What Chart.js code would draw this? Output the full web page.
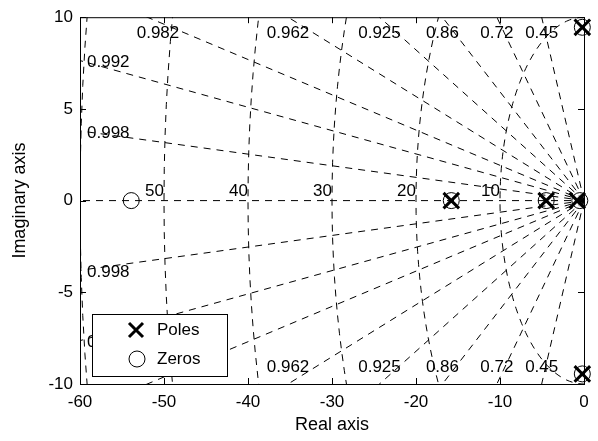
<!DOCTYPE html>
<html>
<head>
<meta charset="utf-8">
<script src="https://cdn.jsdelivr.net/npm/chart.js@4.4.0/dist/chart.umd.min.js"></script>
<style>
  html, body { margin: 0; padding: 0; background: #fff; }
</style>
</head>
<body>
<canvas id="pzmap" width="598" height="441"></canvas>
<script>
// pole / zero locations
const poleRe = [-15.8, -4.5, -0.8, -0.2, -0.2];
const poleIm = [0, 0, 0, 9.45, -9.45];
const zeroRe = [-53.9, -15.8, -4.5, -0.5, -0.2, -0.2];
const zeroIm = [0, 0, 0, 0, 9.45, -9.45];

// s-plane grid
const dampingValues = [0.45, 0.72, 0.86, 0.925, 0.962, 0.982, 0.992, 0.998];
const freqValues = [10, 20, 30, 40, 50, 60];

const xTickValues = [-60, -50, -40, -30, -20, -10, 0];
const yTickValues = [-10, -5, 0, 5, 10];

const FONT = "'Liberation Sans', Arial, Helvetica, sans-serif";

function gridLine(points) {
  return {
    type: "scatter",
    data: points,
    showLine: true,
    borderColor: "#000",
    borderWidth: 1,
    borderDash: [7, 6],
    pointRadius: 0,
    fill: false,
  };
}

const datasets = [];
// real axis, zeta = 1
datasets.push(gridLine([{ x: 0, y: 0 }, { x: -80, y: 0 }]));
dampingValues.forEach((z) => {
  const s = Math.sqrt(1 - z * z);
  datasets.push(gridLine([{ x: 0, y: 0 }, { x: -80 * z, y: 80 * s }]));
  datasets.push(gridLine([{ x: 0, y: 0 }, { x: -80 * z, y: -80 * s }]));
});
freqValues.forEach((wn) => {
  const pts = [];
  for (let a = 90; a <= 270; a += 2) {
    const r = (a * Math.PI) / 180;
    pts.push({ x: wn * Math.cos(r), y: wn * Math.sin(r) });
  }
  datasets.push(gridLine(pts));
});

datasets.push({
  type: "scatter",
  label: "Zeros",
  data: zeroRe.map((re, i) => ({ x: re, y: zeroIm[i] })),
  pointStyle: "circle",
  pointRadius: 8,
  borderWidth: 1,
  borderColor: "#000",
  backgroundColor: "rgba(0,0,0,0)",
  clip: false,
});
datasets.push({
  type: "scatter",
  label: "Poles",
  data: poleRe.map((re, i) => ({ x: re, y: poleIm[i] })),
  pointStyle: "crossRot",
  pointRadius: 11,
  borderWidth: 3,
  borderColor: "#000",
  clip: false,
});

const annotate = {
  id: "annotate",
  afterDatasetsDraw(chart) {
    const { ctx, chartArea: a, scales: { x, y } } = chart;
    ctx.save();

    // axes box and inward ticks
    ctx.strokeStyle = "#000";
    ctx.lineWidth = 1;
    ctx.strokeRect(a.left + 0.5, a.top + 0.5, a.right - a.left, a.bottom - a.top);
    ctx.beginPath();
    xTickValues.forEach((v) => {
      const px = Math.round(x.getPixelForValue(v)) + 0.5;
      ctx.moveTo(px, a.bottom); ctx.lineTo(px, a.bottom - 6);
      ctx.moveTo(px, a.top); ctx.lineTo(px, a.top + 6);
    });
    yTickValues.forEach((v) => {
      const py = Math.round(y.getPixelForValue(v)) + 0.5;
      ctx.moveTo(a.left, py); ctx.lineTo(a.left + 6, py);
      ctx.moveTo(a.right, py); ctx.lineTo(a.right - 6, py);
    });
    ctx.stroke();

    ctx.fillStyle = "#000";
    ctx.font = "17px " + FONT;

    // damping labels where each line leaves the box
    dampingValues.forEach((z) => {
      const slope = Math.sqrt(1 - z * z) / z;
      const edgeY = -x.min * slope;
      const txt = String(z);
      if (edgeY > y.max) {
        let px = x.getPixelForValue(-y.max / slope);
        px = Math.max(px, a.left + 78);
        ctx.textAlign = "center";
        ctx.textBaseline = "middle";
        ctx.fillText(txt, px, a.top + 16);
        ctx.fillText(txt, px, a.bottom - 17);
      } else {
        ctx.textAlign = "left";
        ctx.textBaseline = "middle";
        ctx.fillText(txt, a.left + 7, y.getPixelForValue(edgeY) + 2);
        ctx.fillText(txt, a.left + 7, y.getPixelForValue(-edgeY) + 2);
      }
    });

    // natural frequency labels on the real axis
    ctx.textAlign = "right";
    ctx.textBaseline = "alphabetic";
    freqValues.forEach((wn) => {
      if (-wn <= x.min) return;
      ctx.fillText(String(wn), x.getPixelForValue(-wn), y.getPixelForValue(0) - 5);
    });
    ctx.restore();
  },
  afterDraw(chart) {
    const { ctx } = chart;
    // legend box, lower left
    const bx = 92, by = 314, bw = 135, bh = 62;
    ctx.save();
    ctx.fillStyle = "#fff";
    ctx.fillRect(bx, by, bw, bh);
    ctx.strokeStyle = "#000";
    ctx.lineWidth = 1;
    ctx.strokeRect(bx + 0.5, by + 0.5, bw, bh);

    ctx.lineWidth = 3;
    ctx.beginPath();
    ctx.moveTo(129, 323); ctx.lineTo(143, 337);
    ctx.moveTo(143, 323); ctx.lineTo(129, 337);
    ctx.stroke();
    ctx.lineWidth = 1;
    ctx.beginPath();
    ctx.arc(137, 359, 8, 0, Math.PI * 2);
    ctx.stroke();

    ctx.fillStyle = "#000";
    ctx.font = "17px " + FONT;
    ctx.textAlign = "left";
    ctx.textBaseline = "middle";
    ctx.fillText("Poles", 157, 330);
    ctx.fillText("Zeros", 157, 359);
    ctx.restore();
  },
};

new Chart(document.getElementById("pzmap").getContext("2d"), {
  data: { datasets },
  options: {
    responsive: false,
    animation: false,
    events: [],
    devicePixelRatio: 1,
    layout: { padding: { top: 12, right: 13, left: 0, bottom: 0 } },
    plugins: { legend: { display: false }, tooltip: { enabled: false } },
    scales: {
      x: {
        type: "linear",
        min: -60,
        max: 0,
        afterBuildTicks: (s) => { s.ticks = xTickValues.map((v) => ({ value: v })); },
        afterFit: (s) => { s.height = 57; },
        grid: { display: false, drawTicks: false },
        border: { display: false },
        ticks: { color: "#000", font: { size: 17, family: FONT }, padding: 8, maxRotation: 0 },
        title: { display: true, text: "Real axis", color: "#000", font: { size: 18, family: FONT }, padding: { top: 0, bottom: 5 } },
      },
      y: {
        type: "linear",
        min: -10,
        max: 10,
        afterBuildTicks: (s) => { s.ticks = yTickValues.map((v) => ({ value: v })); },
        afterFit: (s) => { s.width = 80; },
        grid: { display: false, drawTicks: false },
        border: { display: false },
        ticks: { color: "#000", font: { size: 17, family: FONT }, padding: 7 },
        title: { display: true, text: "Imaginary axis", color: "#000", font: { size: 18, family: FONT }, padding: { top: 9, bottom: 0 } },
      },
    },
  },
  plugins: [annotate],
});
</script>
</body>
</html>
